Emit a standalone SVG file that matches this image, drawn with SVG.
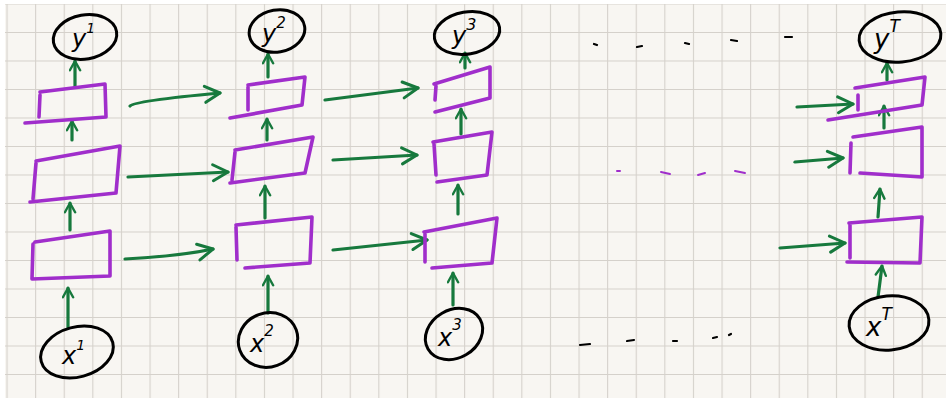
<svg xmlns="http://www.w3.org/2000/svg" width="946" height="398" viewBox="0 0 946 398">
<defs>
<pattern id="grid" patternUnits="userSpaceOnUse" x="6.5" y="3.5" width="28.6" height="28.5">
<path d="M0,0 H28.6 M0,0 V28.5" fill="none" stroke="#d5d1cb" stroke-width="2.2"/>
</pattern>
<marker id="ah" viewBox="0 0 20 20" refX="18" refY="10" markerWidth="20" markerHeight="20" markerUnits="userSpaceOnUse" orient="auto">
<path d="M3,2 L18,10 L3,18" fill="none" stroke="#17793d" stroke-width="3" stroke-linecap="round" stroke-linejoin="round"/>
</marker>
<marker id="ahs" viewBox="0 0 14 14" refX="12" refY="7" markerWidth="13" markerHeight="13" markerUnits="userSpaceOnUse" orient="auto">
<path d="M2,1.5 L12,7 L2,12.5" fill="none" stroke="#17793d" stroke-width="2.6" stroke-linecap="round" stroke-linejoin="round"/>
</marker>
</defs>
<style>
.box{fill:none;stroke:#a02ecb;stroke-width:3.6;stroke-linecap:round;stroke-linejoin:round}
.circ{fill:none;stroke:#000;stroke-width:3}
.lbl{font-family:"DejaVu Sans","Liberation Sans",sans-serif;font-style:italic;fill:#000}
.arr{fill:none;stroke:#17793d;stroke-width:3.2;stroke-linecap:round;marker-end:url(#ah)}
.up{fill:none;stroke:#17793d;stroke-width:3.2;stroke-linecap:round;marker-end:url(#ahs)}
.dot{fill:none;stroke:#000;stroke-width:2.2;stroke-linecap:round}
.pdot{fill:none;stroke:#a02ecb;stroke-width:2;stroke-linecap:round}
</style>
<rect x="0" y="0" width="946" height="398" fill="#f8f6f2"/>
<rect x="5" y="4" width="941" height="394" fill="url(#grid)"/>
<rect x="0" y="0" width="946" height="4" fill="#ffffff"/>
<rect x="0" y="0" width="5" height="398" fill="#ffffff"/>

<g id="connectors">
<line class="up" x1="75" y1="87" x2="75" y2="61"/>
<line class="up" x1="72" y1="140" x2="72" y2="121"/>
<line class="up" x1="70" y1="230" x2="70" y2="203"/>
<line class="up" x1="68" y1="327" x2="68" y2="288"/>
<line class="up" x1="268" y1="77" x2="268" y2="54"/>
<line class="up" x1="267" y1="140" x2="267" y2="119"/>
<line class="up" x1="265" y1="218" x2="265" y2="186"/>
<line class="up" x1="268" y1="313" x2="268" y2="276"/>
<line class="up" x1="465" y1="68" x2="465" y2="53"/>
<line class="up" x1="461" y1="134" x2="461" y2="109"/>
<line class="up" x1="458" y1="214" x2="458" y2="185"/>
<line class="up" x1="453" y1="305" x2="453" y2="273"/>
<line class="up" x1="887" y1="80" x2="887" y2="63"/>
<line class="up" x1="884" y1="128" x2="884" y2="106"/>
<line class="up" x1="878" y1="217" x2="880" y2="189"/>
<line class="up" x1="878" y1="297" x2="882" y2="266"/>
<path class="arr" d="M130,106 Q134,101 220,93"/>
<path class="arr" d="M128,177 L228,172"/>
<path class="arr" d="M125,259 Q180,256 213,249"/>
<path class="arr" d="M325,100 L418,88"/>
<path class="arr" d="M333,160 L417,155"/>
<path class="arr" d="M333,250 L427,240"/>
<path class="arr" d="M797,107 L853,104"/>
<path class="arr" d="M795,162 L843,158"/>
<path class="arr" d="M780,248 L845,243"/>
</g>

<g id="y1"><ellipse class="circ" cx="85" cy="37" rx="32" ry="22" transform="rotate(-10 85 37)"/><text class="lbl" x="72" y="47" font-size="24">y<tspan dy="-14" font-size="14">1</tspan></text></g>
<g id="y2"><ellipse class="circ" cx="277" cy="31" rx="28" ry="21" transform="rotate(-10 277 31)"/><text class="lbl" x="262" y="42" font-size="24">y<tspan dy="-14" font-size="15">2</tspan></text></g>
<g id="y3"><ellipse class="circ" cx="467" cy="33" rx="33" ry="21" transform="rotate(-10 467 33)"/><text class="lbl" x="452" y="44" font-size="24">y<tspan dy="-14" font-size="16">3</tspan></text></g>
<g id="yT"><ellipse class="circ" cx="900" cy="37" rx="41" ry="25" transform="rotate(-5 900 37)"/><text class="lbl" x="874" y="48" font-size="26">y<tspan dy="-16" font-size="17">T</tspan></text></g>

<g id="x1"><ellipse class="circ" cx="77" cy="352" rx="37" ry="25" transform="rotate(-15 77 352)"/><text class="lbl" x="62" y="364" font-size="24">x<tspan dy="-14" font-size="14">1</tspan></text></g>
<g id="x2"><ellipse class="circ" cx="268" cy="340" rx="30" ry="27" transform="rotate(-20 268 340)"/><text class="lbl" x="250" y="352" font-size="24">x<tspan dy="-16" font-size="15">2</tspan></text></g>
<g id="x3"><ellipse class="circ" cx="454" cy="334" rx="30" ry="24" transform="rotate(-30 454 334)"/><text class="lbl" x="438" y="346" font-size="24">x<tspan dy="-16" font-size="15">3</tspan></text></g>
<g id="xT"><ellipse class="circ" cx="889" cy="323" rx="40" ry="27" transform="rotate(-5 889 323)"/><text class="lbl" x="866" y="336" font-size="26">x<tspan dy="-16" font-size="17">T</tspan></text></g>

<g id="h1-3"><path class="box" d="M40,92 L105,84 L106,117 L25,123 M40,95 L39,117"/></g>
<g id="h1-2"><path class="box" d="M36,161 L120,146 L116,193 L30,202 M36,163 L33,199"/></g>
<g id="h1-1"><path class="box" d="M35,242 L110,231 L110,276 L32,279 L33,244"/></g>
<g id="h2-3"><path class="box" d="M248,85 L305,77 L302,105 L230,118 M248,87 L248,110"/></g>
<g id="h2-2"><path class="box" d="M235,150 L313,137 L305,173 L230,183 M235,152 L232,180"/></g>
<g id="h2-1"><path class="box" d="M236,225 L312,217 L310,263 L245,268 M236,227 L237,260"/></g>
<g id="h3-3"><path class="box" d="M434,84 L490,67 L490,98 L435,112 M436,86 L435,100"/></g>
<g id="h3-2"><path class="box" d="M433,142 L492,132 L487,175 L437,182 M434,144 L436,175"/></g>
<g id="h3-1"><path class="box" d="M424,232 L497,218 L492,263 L432,268 M425,234 L425,262"/></g>
<g id="hT-3"><path class="box" d="M855,88 L925,77 L922,105 L828,120 M858,95 L858,110"/></g>
<g id="hT-2"><path class="box" d="M853,137 L922,127 L922,177 L860,173 M851,143 L850,173"/></g>
<g id="hT-1"><path class="box" d="M849,223 L922,217 L920,263 L847,262 M850,225 L850,258"/></g>

<g id="ellipsis">
<path class="dot" d="M594,44 L597,45 M637,47 L642,46 M685,43 L689,44 M731,40 L737,41 M785,37 L792,37"/>
<path class="pdot" d="M617,171 L620,171 M661,172 L670,174 M698,175 L705,173 M735,171 L745,173"/>
<path class="dot" d="M580,345 L590,344 M627,341 L634,340 M673,341 L677,341 M713,338 L717,337 M729,335 L731,334"/>
</g>
</svg>
